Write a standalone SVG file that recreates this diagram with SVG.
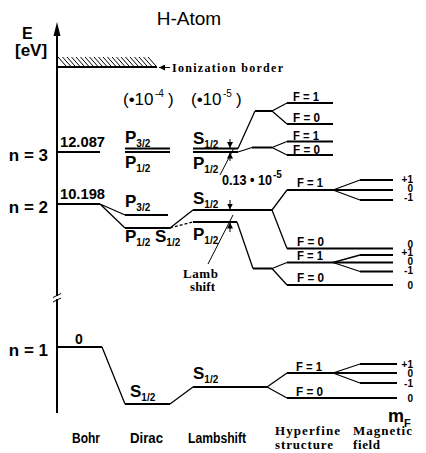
<svg xmlns="http://www.w3.org/2000/svg" width="426" height="453" viewBox="0 0 426 453">
<style>
.lv{stroke:#000;stroke-width:2;fill:none}
.cn{stroke:#000;stroke-width:1.3;fill:none}
.th{stroke:#000;stroke-width:1;fill:none}
text{fill:#000}
.s{font-family:"Liberation Sans",Arial,sans-serif;font-weight:bold}
.r{font-family:"Liberation Sans",Arial,sans-serif}
.sf{font-family:"Liberation Serif","Times New Roman",serif;font-weight:bold}
.st{font-family:"Liberation Sans",Arial,sans-serif;font-weight:bold;font-size:17px}
.sub{font-size:10px}
.F{font-family:"Liberation Sans",Arial,sans-serif;font-weight:bold;font-size:13px}
.m{font-family:"Liberation Sans",Arial,sans-serif;font-weight:bold;font-size:10px;text-anchor:end}
</style>
<defs>
<marker id="ah" markerUnits="userSpaceOnUse" markerWidth="6" markerHeight="6" viewBox="0 0 6 6" refX="6" refY="3" orient="auto">
<path d="M0 0L6 3L0 6z" fill="#000"/>
</marker>
</defs>
<rect width="426" height="453" fill="#fff"/>

<g id="title"><text class="r" x="189" y="25" font-size="19" text-anchor="middle">H-Atom</text></g>

<g id="axis">
<line class="lv" x1="57" y1="34" x2="57" y2="296"/>
<line class="lv" x1="57" y1="299" x2="57" y2="413"/>
<path d="M57 22L53.5 36L60.5 36z" fill="#000"/>
<path class="th" d="M53 297.5L61 293.5M53 302L61 298"/>
<text class="s" x="22" y="39" font-size="16">E</text>
<text class="s" x="15" y="56" font-size="17">[eV]</text>
</g>

<g id="ionization">
<path class="th" d="M58 57l8 9M62.5 57l8 9M67 57l8 9M71.5 57l8 9M76 57l8 9M80.5 57l8 9M85 57l8 9M89.5 57l8 9M94 57l8 9M98.5 57l8 9M103 57l8 9M107.5 57l8 9M112 57l8 9M116.5 57l8 9M121 57l8 9M125.5 57l8 9M130 57l8 9M134.5 57l8 9M139 57l8 9M143.5 57l8 9M148 57l8 9"/>
<line class="lv" x1="57" y1="67" x2="157" y2="67"/>
<line class="th" x1="170" y1="67.5" x2="159" y2="67.5" marker-end="url(#ah)"/>
<text class="sf" x="172" y="72" font-size="12" textLength="111" lengthAdjust="spacing">Ionization border</text>
</g>

<g id="scales">
<text class="r" font-size="17"><tspan x="123" y="105">(•10</tspan><tspan x="155" y="97" font-size="10">-4</tspan><tspan x="168" y="105">)</tspan></text>
<text class="r" font-size="17"><tspan x="191" y="105">(•10</tspan><tspan x="223" y="97" font-size="10">-5</tspan><tspan x="236" y="105">)</tspan></text>
</g>

<g id="n-labels">
<text class="s" x="48" y="161" font-size="17" text-anchor="end">n = 3</text>
<text class="s" x="48" y="213" font-size="17" text-anchor="end">n = 2</text>
<text class="s" x="48" y="356" font-size="17" text-anchor="end">n = 1</text>
</g>

<g id="bohr">
<line class="lv" x1="57" y1="152" x2="100" y2="152"/>
<line class="lv" x1="57" y1="204" x2="100" y2="204"/>
<line class="lv" x1="57" y1="347" x2="102" y2="347"/>
<text class="s" x="60" y="147" font-size="14" textLength="45" lengthAdjust="spacingAndGlyphs">12.087</text>
<text class="s" x="60" y="199" font-size="14" textLength="45" lengthAdjust="spacingAndGlyphs">10.198</text>
<text class="s" x="75" y="344" font-size="14">0</text>
</g>

<g id="dirac">
<line class="lv" x1="125" y1="148.5" x2="170" y2="148.5"/>
<line class="lv" x1="125" y1="152" x2="170" y2="152"/>
<line class="lv" x1="125" y1="215" x2="168" y2="215"/>
<line class="lv" x1="125" y1="228" x2="170" y2="228"/>
<line class="lv" x1="125" y1="404" x2="170" y2="404"/>
<text class="st" x="125" y="143">P<tspan class="sub" dy="4">3/2</tspan></text>
<text class="st" x="125" y="168">P<tspan class="sub" dy="4">1/2</tspan></text>
<text class="st" x="125" y="207">P<tspan class="sub" dy="4">3/2</tspan></text>
<text class="st" x="125" y="242">P<tspan class="sub" dy="4">1/2</tspan></text>
<text class="st" x="155" y="242">S<tspan class="sub" dy="4">1/2</tspan></text>
<text class="st" x="130" y="397">S<tspan class="sub" dy="4">1/2</tspan></text>
</g>

<g id="lambshift">
<line class="lv" x1="193" y1="148.5" x2="238" y2="148.5"/>
<line class="lv" x1="193" y1="152" x2="238" y2="152"/>
<line class="lv" x1="255" y1="111" x2="272" y2="111"/>
<line class="lv" x1="252" y1="147.5" x2="272" y2="147.5"/>
<line class="lv" x1="193" y1="210" x2="272" y2="210"/>
<line class="lv" x1="193" y1="222" x2="237" y2="222"/>
<line class="lv" x1="253" y1="268.5" x2="272" y2="268.5"/>
<line class="lv" x1="193" y1="387" x2="267" y2="387"/>
<text class="st" x="193" y="144">S<tspan class="sub" dy="4">1/2</tspan></text>
<text class="st" x="193" y="169">P<tspan class="sub" dy="4">1/2</tspan></text>
<text class="st" x="193" y="204">S<tspan class="sub" dy="4">1/2</tspan></text>
<text class="st" x="193" y="240">P<tspan class="sub" dy="4">1/2</tspan></text>
<text class="st" x="193" y="379">S<tspan class="sub" dy="4">1/2</tspan></text>
<line class="th" x1="230" y1="139" x2="230" y2="148" marker-end="url(#ah)"/>
<line class="th" x1="230" y1="161" x2="230" y2="152.5" marker-end="url(#ah)"/>
<line class="th" x1="220" y1="175" x2="234" y2="148"/>
<text class="s" x="222" y="185" font-size="14" textLength="50" lengthAdjust="spacingAndGlyphs">0.13 • 10</text>
<text class="s" x="273" y="178" font-size="10">-5</text>
<line class="th" x1="230" y1="200" x2="230" y2="209.5" marker-end="url(#ah)"/>
<line class="th" x1="230" y1="232" x2="230" y2="222.5" marker-end="url(#ah)"/>
<line class="th" x1="208" y1="264" x2="233" y2="215"/>
<text class="sf" x="183" y="278" font-size="13" textLength="35" lengthAdjust="spacing">Lamb</text>
<text class="sf" x="190" y="291" font-size="13" textLength="25" lengthAdjust="spacing">shift</text>
</g>

<g id="hyperfine">
<line class="lv" x1="287" y1="103" x2="333" y2="103"/>
<line class="lv" x1="287" y1="124" x2="333" y2="124"/>
<line class="lv" x1="287" y1="141.5" x2="333" y2="141.5"/>
<line class="lv" x1="287" y1="155" x2="333" y2="155"/>
<line class="lv" x1="287" y1="190" x2="393" y2="190"/>
<line class="lv" x1="287" y1="248.5" x2="393" y2="248.5"/>
<line class="lv" x1="287" y1="262.5" x2="393" y2="262.5"/>
<line class="lv" x1="287" y1="285" x2="393" y2="285"/>
<line class="lv" x1="287" y1="373" x2="397" y2="373"/>
<line class="lv" x1="287" y1="398" x2="397" y2="398"/>
<text class="F" x="293" y="101" textLength="26" lengthAdjust="spacingAndGlyphs">F = 1</text>
<text class="F" x="293" y="122" textLength="27" lengthAdjust="spacingAndGlyphs">F = 0</text>
<text class="F" x="293" y="140" textLength="26" lengthAdjust="spacingAndGlyphs">F = 1</text>
<text class="F" x="293" y="154" textLength="27" lengthAdjust="spacingAndGlyphs">F = 0</text>
<text class="F" x="297" y="187" textLength="26" lengthAdjust="spacingAndGlyphs">F = 1</text>
<text class="F" x="297" y="246" textLength="27" lengthAdjust="spacingAndGlyphs">F = 0</text>
<text class="F" x="297" y="260" textLength="26" lengthAdjust="spacingAndGlyphs">F = 1</text>
<text class="F" x="297" y="282" textLength="27" lengthAdjust="spacingAndGlyphs">F = 0</text>
<text class="F" x="296" y="371" textLength="26" lengthAdjust="spacingAndGlyphs">F = 1</text>
<text class="F" x="296" y="396" textLength="27" lengthAdjust="spacingAndGlyphs">F = 0</text>
</g>

<g id="magnetic">
<line class="lv" x1="360" y1="180" x2="393" y2="180"/>
<line class="lv" x1="360" y1="200" x2="393" y2="200"/>
<line class="lv" x1="360" y1="255" x2="393" y2="255"/>
<line class="lv" x1="360" y1="271.5" x2="393" y2="271.5"/>
<line class="lv" x1="360" y1="364" x2="397" y2="364"/>
<line class="lv" x1="360" y1="383" x2="397" y2="383"/>
<text class="m" x="413" y="183">+1</text>
<text class="m" x="413" y="192">0</text>
<text class="m" x="413" y="201">-1</text>
<text class="m" x="413" y="248">0</text>
<text class="m" x="413" y="256">+1</text>
<text class="m" x="413" y="265">0</text>
<text class="m" x="413" y="274">-1</text>
<text class="m" x="413" y="289">0</text>
<text class="m" x="413" y="368">+1</text>
<text class="m" x="413" y="377">0</text>
<text class="m" x="413" y="387">-1</text>
<text class="m" x="413" y="402">0</text>
<text class="s" x="388" y="422" font-size="18">m</text>
<text class="s" x="404" y="427" font-size="11">F</text>
</g>

<g id="connectors">
<path class="cn" d="M238 148.5L255 111M238 152L252 147.5M272 111L287 103M272 111L287 124M272 147.5L287 141.5M272 147.5L287 155"/>
<path class="cn" d="M100 204L125 215M100 204L125 228M170 228L193 210M237 222L253 268.5M272 210L287 190M272 210L287 248.5M272 268.5L287 262.5M272 268.5L287 285M333 190L360 180M333 190L360 200M333 262.5L360 255M333 262.5L360 271.5"/>
<path class="cn" d="M170 228L193 222" stroke-dasharray="3 2"/>
<path class="cn" d="M102 347L125 404M170 404L193 387M267 387L287 373M267 387L287 398M333 373L360 364M333 373L360 383"/>
</g>

<g id="columns">
<text class="s" x="72" y="443" font-size="14" textLength="28" lengthAdjust="spacingAndGlyphs">Bohr</text>
<text class="s" x="130" y="443" font-size="14" textLength="33" lengthAdjust="spacingAndGlyphs">Dirac</text>
<text class="s" x="188" y="443" font-size="14" textLength="58" lengthAdjust="spacingAndGlyphs">Lambshift</text>
<text class="sf" x="275" y="435" font-size="13" textLength="65" lengthAdjust="spacing">Hyperfine</text>
<text class="sf" x="275" y="449" font-size="13" textLength="58" lengthAdjust="spacing">structure</text>
<text class="sf" x="353" y="435" font-size="13" textLength="59" lengthAdjust="spacing">Magnetic</text>
<text class="sf" x="353" y="449" font-size="13" textLength="27" lengthAdjust="spacing">field</text>
</g>
</svg>
